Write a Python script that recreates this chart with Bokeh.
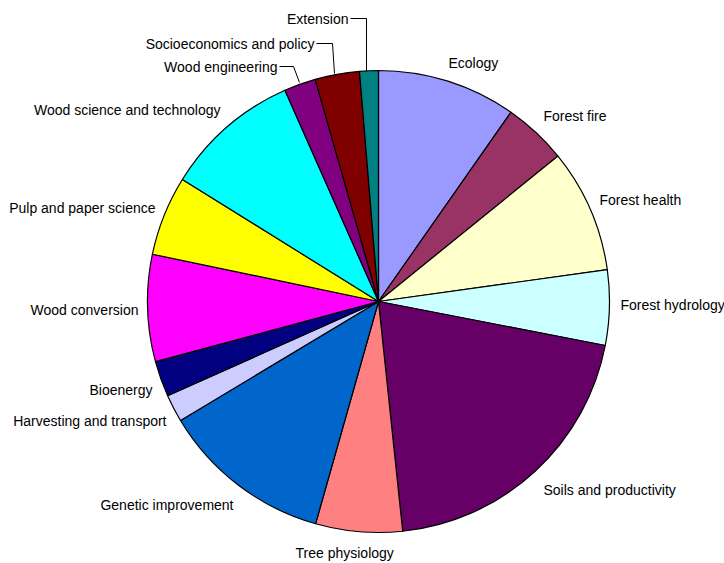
import numpy as np
from bokeh.plotting import figure
from bokeh.models import Range1d, ColumnDataSource
from bokeh.core.properties import value
from bokeh.embed import file_html
from bokeh.resources import INLINE

# ---- data (share of total, clockwise from 12 o'clock) ----
categories = ["Ecology", "Forest fire", "Forest health", "Forest hydrology",
              "Soils and productivity", "Tree physiology", "Genetic improvement",
              "Harvesting and transport", "Bioenergy", "Wood conversion",
              "Pulp and paper science", "Wood science and technology",
              "Wood engineering", "Socioeconomics and policy", "Extension"]
shares = [9.72, 4.44, 8.64, 5.25, 20.28, 6.06, 12.0, 1.92, 2.5, 7.47,
          5.58, 9.5, 2.22, 3.11, 1.31]
colors = ["#9999FF", "#993366", "#FFFFCC", "#CCFFFF", "#660066", "#FF8080",
          "#0066CC", "#CCCCFF", "#000080", "#FF00FF", "#FFFF00", "#00FFFF",
          "#800080", "#800000", "#008080"]

# ---- layout (pixels relative to pie centre, y up) ----
W, H = 724, 563
CX, CY = 378, 301          # pie centre in picture pixels
R = 231
def px(sx, sy):
    return sx - CX, CY - sy

label_pos = {
    "Ecology": (448, 62, "left"),
    "Forest fire": (543, 115, "left"),
    "Forest health": (599, 199, "left"),
    "Forest hydrology": (620, 304, "left"),
    "Soils and productivity": (543, 489, "left"),
    "Tree physiology": (295, 552, "left"),
    "Genetic improvement": (233, 504, "right"),
    "Harvesting and transport": (166, 420, "right"),
    "Bioenergy": (152, 389, "right"),
    "Wood conversion": (138, 309, "right"),
    "Pulp and paper science": (155, 207, "right"),
    "Wood science and technology": (220, 109, "right"),
    "Wood engineering": (277, 66, "right"),
    "Socioeconomics and policy": (314, 43, "right"),
    "Extension": (348, 18, "right"),
}
leaders = {
    "Wood engineering": [(279, 66), (293, 66), (299, 82)],
    "Socioeconomics and policy": [(316, 43), (332, 43), (334, 73)],
    "Extension": [(350, 18), (366, 18), (366, 71)],
}

vals = np.array(shares, dtype=float)
frac = vals / vals.sum() * 2 * np.pi
cw_end = np.cumsum(frac)
cw_start = cw_end - frac
start_angle = np.pi / 2 - cw_end
end_angle = np.pi / 2 - cw_start

src = ColumnDataSource(dict(cat=categories, color=colors,
                            start=start_angle, end=end_angle))

x0, y0 = px(0, 0)
x1, y1 = px(W, H)
p = figure(width=W, height=H, output_backend="svg", toolbar_location=None,
           x_range=Range1d(x0, x1), y_range=Range1d(y1, y0),
           x_axis_location=None, y_axis_location=None, min_border=0)
p.grid.visible = False
p.outline_line_color = None

p.wedge(x=0, y=0, radius=R, start_angle="start", end_angle="end",
        fill_color="color", line_color="black", line_width=1.2, source=src)

for name in categories:
    sx, sy, align = label_pos[name]
    tx, ty = px(sx, sy)
    p.text(x=[tx], y=[ty], text=[name], text_align=align, text_baseline="middle",
           text_font=value("Liberation Sans"), text_font_size="14px",
           text_color="black")

for name, pts in leaders.items():
    xs = [px(a, b)[0] for a, b in pts]
    ys = [px(a, b)[1] for a, b in pts]
    p.line(xs, ys, line_color="black", line_width=1)

open("out.html", "w").write(file_html(p, INLINE))
